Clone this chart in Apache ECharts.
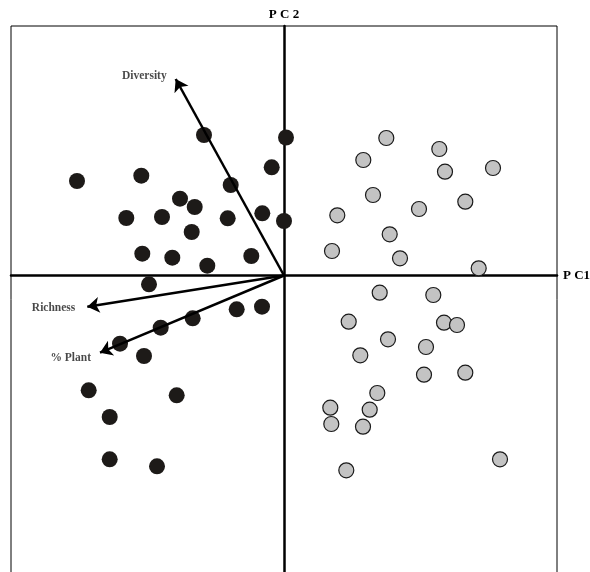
<!DOCTYPE html>
<html>
<head>
<meta charset="utf-8">
<script src="https://cdn.jsdelivr.net/npm/echarts@6/dist/echarts.min.js"></script>
<style>html,body{margin:0;padding:0;background:#fff;}#c{width:590px;height:572px;}</style>
</head>
<body>
<div id="c"></div>
<script>
// PCA scores (PC1, PC2)
const groupA = [
  [-0.80, 1.405], [0.02, 1.38], [-0.123, 1.082], [-2.07, 0.945], [-1.427, 0.998],
  [-0.533, 0.905], [-1.04, 0.768], [-0.893, 0.685], [-1.577, 0.575], [-1.22, 0.585],
  [-0.563, 0.572], [-0.217, 0.622], [0.0, 0.545], [-0.923, 0.435], [-1.417, 0.218],
  [-1.117, 0.178], [-0.767, 0.098], [-0.327, 0.195], [-1.35, -0.088], [-0.473, -0.338],
  [-0.22, -0.312], [-0.913, -0.428], [-1.233, -0.522], [-1.64, -0.682], [-1.40, -0.805],
  [-1.953, -1.148], [-1.073, -1.198], [-1.743, -1.415], [-1.743, -1.838], [-1.27, -1.908]
];
const groupB = [
  [1.023, 1.375], [1.553, 1.265], [0.793, 1.155], [1.61, 1.038], [2.09, 1.075],
  [0.89, 0.805], [1.813, 0.738], [1.35, 0.665], [0.533, 0.602], [1.057, 0.412],
  [0.48, 0.245], [1.16, 0.172], [1.947, 0.072], [0.957, -0.172], [1.493, -0.195],
  [0.647, -0.462], [1.60, -0.472], [1.73, -0.495], [1.04, -0.638], [1.42, -0.715],
  [0.763, -0.798], [1.40, -0.992], [1.813, -0.972], [0.933, -1.175], [0.463, -1.322],
  [0.857, -1.342], [0.473, -1.485], [0.79, -1.512], [2.16, -1.838], [0.623, -1.948]
];
// loading vectors
const vectorNames = ['Diversity', 'Richness', '% Plant'];
const vectorTips = [[-1.083, 1.965], [-1.967, -0.312], [-1.84, -0.772]];
const axisNames = ['P C1', 'P C 2'];
const xRange = [-2.73, 2.73];
const yRange = [-3.045, 2.495];

const labelOffsets = [[0, -3], [-3, 1], [0, 5]];
const font = '"Liberation Serif", "Times New Roman", serif';

const chart = echarts.init(document.getElementById('c'), null, {renderer: 'canvas'});
chart.setOption({
  animation: false,
  backgroundColor: '#fff',
  grid: {left: 11, top: 26, width: 546, height: 554, show: true, borderColor: '#000', borderWidth: 1,
         backgroundColor: 'transparent', containLabel: false, outerBoundsMode: 'none'},
  xAxis: {
    type: 'value', min: xRange[0], max: xRange[1],
    name: axisNames[0], nameLocation: 'end', nameGap: 6,
    nameTextStyle: {fontFamily: font, fontWeight: 'bold', fontSize: 13, color: '#000', verticalAlign: 'middle'},
    axisLine: {show: true, onZero: true, lineStyle: {color: '#000', width: 2.5}},
    axisTick: {show: false}, axisLabel: {show: false}, splitLine: {show: false}
  },
  yAxis: {
    type: 'value', min: yRange[0], max: yRange[1],
    name: axisNames[1], nameLocation: 'end', nameGap: 5,
    nameTextStyle: {fontFamily: font, fontWeight: 'bold', fontSize: 13, color: '#000', align: 'center'},
    axisLine: {show: true, onZero: true, lineStyle: {color: '#000', width: 2.5}},
    axisTick: {show: false}, axisLabel: {show: false}, splitLine: {show: false}
  },
  series: [
    {
      type: 'scatter', data: groupA, symbolSize: 16,
      itemStyle: {color: '#1d1a18', opacity: 1}, z: 3
    },
    {
      type: 'scatter', data: groupB, symbolSize: 15,
      itemStyle: {color: '#c3c3c3', borderColor: '#1a1a1a', borderWidth: 1.2, opacity: 1}, z: 3
    },
    {
      type: 'lines', coordinateSystem: 'cartesian2d', z: 4,
      symbol: ['none', 'arrow'], symbolSize: 12,
      lineStyle: {color: '#000', width: 2.5, opacity: 1},
      data: vectorTips.map(t => ({coords: [[0, 0], t]}))
    },
    {
      type: 'scatter', symbolSize: 0, z: 5,
      data: vectorTips.map((t, i) => ({
        value: t, name: vectorNames[i],
        label: {offset: labelOffsets[i]}
      })),
      label: {
        show: true, position: 'left', distance: 9,
        formatter: p => p.name,
        fontFamily: font, fontWeight: 'bold', fontSize: 11.5, color: '#1a1a1a'
      }
    }
  ]
});
</script>
</body>
</html>
